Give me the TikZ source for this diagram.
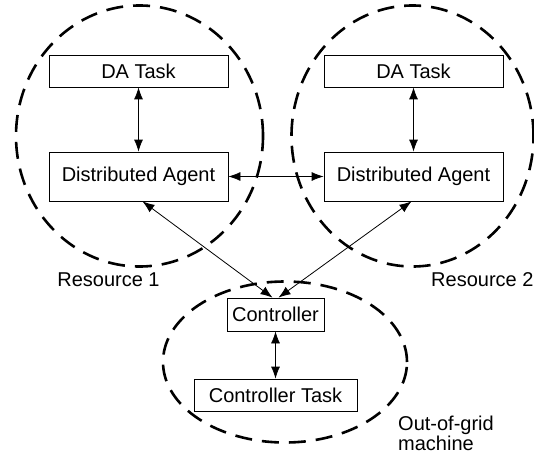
\documentclass[tikz,border=0pt]{standalone}
\usepackage{fontspec}
\setmainfont{Liberation Sans}
\usetikzlibrary{arrows.meta,positioning}

\tikzset{
  box/.style={draw,line width=0.8pt,inner sep=0pt,minimum height=32pt},
  link/.style={line width=0.8pt,{Latex[length=12pt,width=9pt]}-{Latex[length=12pt,width=9pt]}},
  zone/.style={line width=2.6pt,dash pattern=on 17pt off 10pt},
}

\begin{document}
\begin{tikzpicture}[x=1pt,y=-1pt,font=\fontsize{20}{20}\selectfont]
            \useasboundingbox (0,0) rectangle (534,457);
            % resources and controller machine
            \draw[zone] (139.5,136) ellipse [x radius=123.5pt, y radius=130.5pt];
            \draw[zone] (412.5,136) ellipse [x radius=121pt, y radius=130.5pt];
            \draw[zone] (285,362) ellipse [x radius=122pt, y radius=80.5pt];

            \node[box,minimum width=179pt] (ltask) at (138.5,71) {DA Task};
            \node[box,minimum width=179pt,minimum height=49pt] (lagent) at (138.5,176.5) {Distributed Agent};
            \node[box,minimum width=179pt] (rtask) at (413.5,71) {DA Task};
            \node[box,minimum width=179pt,minimum height=49pt] (ragent) at (413.5,176.5) {Distributed Agent};
            \node[box,minimum width=97pt,minimum height=33pt] (ctrl) at (275.5,314.5) {Controller};
            \node[box,minimum width=163pt] (ctask) at (275.5,395) {Controller Task};

            \node (res1) at (108.5,280) {Resource 1};
            \node[anchor=west,inner sep=0pt] (res2) at (431,280) {Resource 2};
            \node[anchor=north west,align=left,inner sep=0pt] (oog) at (398,416) {Out-of-grid\\machine};

            \draw[link] (ltask) -- (lagent);
            \draw[link] (rtask) -- (ragent);
            \draw[link] (lagent) -- (ragent);
            \draw[link] ([xshift=4pt]lagent.south) -- ([xshift=-3pt]ctrl.north);
            \draw[link] ([xshift=-2pt]ragent.south) -- ([xshift=3pt]ctrl.north);
            \draw[link] (ctrl) -- (ctask);
        \end{tikzpicture}
\end{document}
